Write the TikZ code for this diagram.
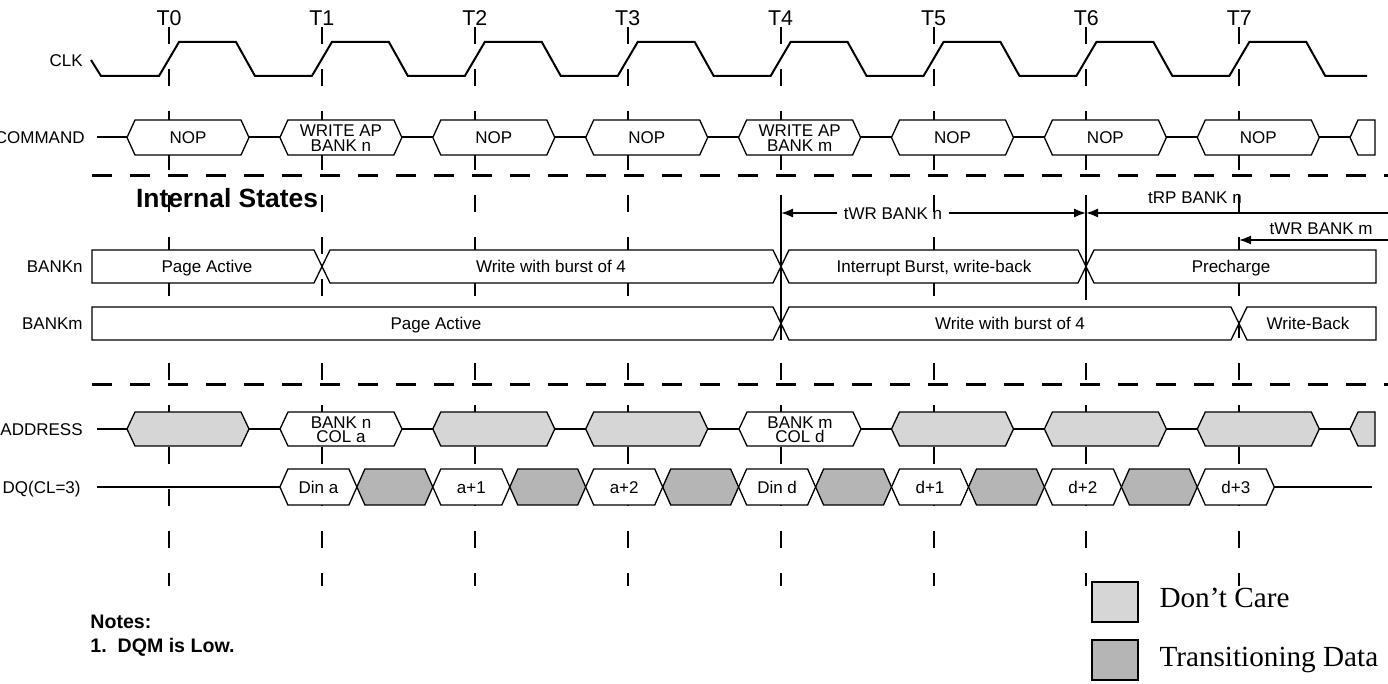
\documentclass[tikz,border=0pt]{standalone}
\usepackage{fontspec}
\setmainfont{Liberation Sans}
\newfontfamily\legendfont{Liberation Serif}
\usetikzlibrary{arrows.meta, positioning, calc}

% one bus value: point, flat top, point, flat bottom
\newcommand{\hexseg}[5]{%
  \draw[#1] (#2,#4) -- (#2+8,#4-#5) -- (#3-8,#4-#5) -- (#3,#4)
    -- (#3-8,#4+#5) -- (#2+8,#4+#5) -- cycle;}

\begin{document}
\begin{tikzpicture}[
  x=0.5pt, y=-0.5pt,
  sig/.style={line width=1pt},
  bus/.style={draw, line width=0.65pt, fill=white},
  dontcare/.style={bus, fill=black!16},
  trans/.style={bus, fill=black!29},
  lbl/.style={font=\fontsize{8.5}{8.5}\selectfont, inner sep=0pt, text height=6.1pt, text depth=0pt},
  twoline/.style={font=\fontsize{8.5}{7.2}\selectfont, align=center, inner sep=0pt},
  rowname/.style={font=\fontsize{8.5}{8.5}\selectfont, anchor=east, inner sep=0pt, text height=6.1pt, text depth=0pt},
  tlabel/.style={font=\fontsize{10.7}{10.7}\selectfont, inner sep=0pt},
  tick/.style={line width=1pt, dash pattern=on 8.5pt off 12.5pt},
  sepline/.style={line width=1.5pt, dash pattern=on 10pt off 9pt},
  dimarr/.style={-{Latex[length=6pt,width=4.5pt]}, line width=0.8pt},
  keybox/.style={draw, line width=1.1pt, minimum width=23pt, minimum height=20pt, inner sep=0pt}
]
\useasboundingbox (0,0) rectangle (1388,684);

% clock edges and time marks
\foreach \i in {0,...,7} {
  \pgfmathsetmacro\tx{169+152.9*\i}
  \draw[tick] (\tx,27) -- (\tx,586);
  \node[tlabel] (T\i) at (\tx,18) {T\i};
}
\draw[sig] (91,60) -- (101,76)
  \foreach \i in {0,...,7} { -- (169+152.9*\i-10,76) -- ++(20,-34) -- ++(57,0) -- ++(19,34) }
  -- (1367,76);

% row names
\node[rowname] (clk) at (83,60) {CLK};
\node[rowname] (command) at (85,137.5) {COMMAND};
\node[rowname] (bankn) at (83,266.5) {BANKn};
\node[rowname] (bankm) at (83,323.5) {BANKm};
\node[rowname] (address) at (83,429) {ADDRESS};
\node[rowname] (dq) at (81,487) {DQ(CL=3)};

% command bus
\draw[sig] (97,137.5) -- (1350,137.5);
\foreach \i/\txt in {0/NOP, 1/{WRITE AP\\BANK n}, 2/NOP, 3/NOP, 4/{WRITE AP\\BANK m}, 5/NOP, 6/NOP, 7/NOP} {
  \pgfmathsetmacro\tx{169+152.9*\i}
  \hexseg{bus}{\tx-42}{\tx+80}{137.5}{17.5}
  \node[twoline] (cmd\i) at (\tx+19,138) {\txt};
}
\draw[bus] (1350,137.5) -- (1358,120) -- (1375,120) -- (1375,155) -- (1358,155) -- cycle;

\draw[sepline] (92,176) -- (1388,176);
\node[font=\fontsize{13.2}{13.2}\selectfont\bfseries, inner sep=0pt] (internal) at (227,198) {Internal States};

% internal bank states
\draw[bus] (92,250) -- (314,250) -- (322,266.5) -- (314,283) -- (92,283) -- cycle;
\hexseg{bus}{322}{781}{266.5}{16.5}
\hexseg{bus}{781}{1086}{266.5}{16.5}
\draw[bus] (1086,266.5) -- (1094,250) -- (1376,250) -- (1376,283) -- (1094,283) -- cycle;
\node[lbl] (na) at (207,266.5) {Page Active};
\node[lbl] (nw) at (551,266.5) {Write with burst of 4};
\node[lbl] (ni) at (934,266.5) {Interrupt Burst, write-back};
\node[lbl] (np) at (1231,266.5) {Precharge};

\draw[bus] (92,307) -- (773,307) -- (781,323.5) -- (773,340) -- (92,340) -- cycle;
\hexseg{bus}{781}{1239}{323.5}{16.5}
\draw[bus] (1239,323.5) -- (1247,307) -- (1376,307) -- (1376,340) -- (1247,340) -- cycle;
\node[lbl] (ma) at (436,323.5) {Page Active};
\node[lbl] (mw) at (1010,323.5) {Write with burst of 4};
\node[lbl] (mb) at (1308,323.5) {Write-Back};

% write recovery / precharge timing
\draw[sig] (781,205) -- (781,340);
\draw[sig] (1086,205) -- (1086,300);
\coordinate (t4a) at (781,213);
\coordinate (t6a) at (1086,213);
\coordinate (t7a) at (1239,240);
\coordinate (rpend) at (1388,213);
\coordinate (wrend) at (1388,240);
\node[lbl, inner sep=3pt] (twrn) at (893,213) {tWR BANK n};
\draw[dimarr] (twrn.west) -- (t4a);
\draw[dimarr] (twrn.east) -- (t6a);
\draw[dimarr] (rpend) -- (t6a);
\node[lbl] (trpn) at (1195,197) {tRP BANK n};
\draw[dimarr] (wrend) -- (t7a);
\node[lbl, anchor=east] (twrm) at (1373,228) {tWR BANK m};

\draw[sepline] (92,385) -- (1388,385);

% address bus
\draw[sig] (97,429) -- (1350,429);
\foreach \i in {0,2,3,5,6,7} {
  \pgfmathsetmacro\tx{169+152.9*\i}
  \hexseg{dontcare}{\tx-42}{\tx+80}{429}{17}
}
\hexseg{bus}{280}{402}{429}{17}
\hexseg{bus}{739}{861}{429}{17}
\node[twoline] (adra) at (341,430) {BANK n\\COL a};
\node[twoline] (adrd) at (800,430) {BANK m\\COL d};
\draw[dontcare] (1350,429) -- (1358,412) -- (1375,412) -- (1375,446) -- (1358,446) -- cycle;

% data bus
\draw[sig] (97,487) -- (1372,487);
\foreach \i in {1,...,6} {
  \pgfmathsetmacro\tx{169+152.9*\i}
  \hexseg{trans}{\tx+35}{\tx+110.9}{487}{18}
}
\foreach \i/\txt in {1/Din a, 2/a+1, 3/a+2, 4/Din d, 5/d+1, 6/d+2, 7/d+3} {
  \pgfmathsetmacro\tx{169+152.9*\i}
  \hexseg{bus}{\tx-42}{\tx+35}{487}{18}
  \node[lbl] (dq\i) at (\tx-3.5,487) {\txt};
}

% notes and key
\node[font=\fontsize{9.8}{9.8}\selectfont\bfseries, anchor=west, inner sep=0pt] (notes) at (90,622) {Notes:};
\node[font=\fontsize{9.8}{9.8}\selectfont\bfseries, anchor=west, inner sep=0pt] (note1) at (90,647) {1.\ \ DQM is Low.};

\node[keybox, fill=black!16] (keydc) at (1115,602) {};
\node[keybox, fill=black!29] (keytr) at (1115,660) {};
\node[font=\legendfont\fontsize{14.6}{14.6}\selectfont, anchor=west, inner sep=0pt, right=10pt of keydc, yshift=2pt] (txtdc) {Don’t Care};
\node[font=\legendfont\fontsize{14.6}{14.6}\selectfont, anchor=west, inner sep=0pt, right=10pt of keytr] (txttr) {Transitioning Data};
\end{tikzpicture}
\end{document}
